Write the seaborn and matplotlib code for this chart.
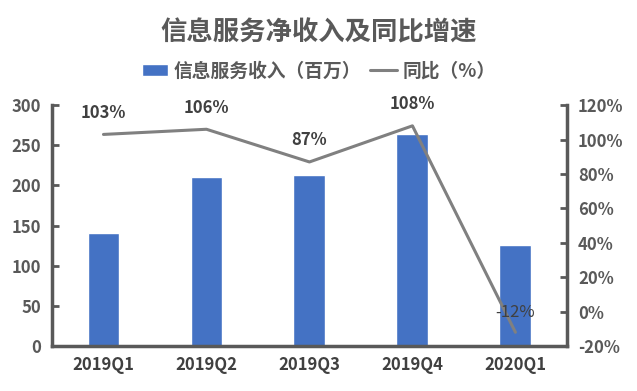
import numpy as np
import pandas as pd
import seaborn as sns
import matplotlib.pyplot as plt

quarters = ["2019Q1", "2019Q2", "2019Q3", "2019Q4", "2020Q1"]
revenue = [141, 211, 213, 264, 126]  # 信息服务收入（百万）
yoy = [103, 106, 87, 108, -12]  # 同比（%）
yoy_labels = ["103%", "106%", "87%", "108%", "-12%"]

sns.set_theme(style="white")
plt.rcParams['font.family'] = ['Noto Sans CJK SC', 'DejaVu Sans']

bar_color = "#4472C4"
line_color = "#808080"
text_color = "#595959"

df = pd.DataFrame({"quarter": quarters, "revenue": revenue, "yoy": yoy})

fig = plt.figure(figsize=(6.37, 3.91), dpi=100)
ax = fig.add_axes([0.0816, 0.115, 0.8084, 0.616])
sns.barplot(data=df, x="quarter", y="revenue", color=bar_color, width=0.31,
            saturation=1, ax=ax, label="信息服务收入（百万）")
ax.set_ylim(0, 300)
ax.set_yticks(range(0, 301, 50))
ax.set_xlim(-0.5, 4.5)
ax.set_xlabel("")
ax.set_ylabel("")

ax2 = ax.twinx()
sns.lineplot(x=np.arange(len(quarters)), y=yoy, color=line_color, linewidth=2.2,
             ax=ax2, label="同比（%）", legend=False)
ax2.set_ylim(-20, 120)
ax2.set_yticks(range(-20, 121, 20))
ax2.set_yticklabels([f"{v}%" for v in range(-20, 121, 20)])
ax2.set_xlim(-0.5, 4.5)

for i, (v, lab) in enumerate(zip(yoy, yoy_labels)):
    if v >= 0:
        ax2.annotate(lab, (i, v), xytext=(0, 9), textcoords="offset points",
                     ha="center", va="bottom", fontsize=12, fontweight="bold",
                     color="#404040")
    else:
        ax2.annotate(lab, (i, v), xytext=(0, 8), textcoords="offset points",
                     ha="center", va="bottom", fontsize=12, color="#404040")

for a in (ax, ax2):
    for s in a.spines.values():
        s.set_visible(False)
ax.spines["left"].set_visible(True)
ax.spines["bottom"].set_visible(True)
ax2.spines["right"].set_visible(True)
for s in (ax.spines["left"], ax.spines["bottom"], ax2.spines["right"]):
    s.set_color(text_color)
    s.set_linewidth(2.5)

ax.set_xticks(np.arange(len(quarters)))
ax.set_xticklabels(quarters)
ax.tick_params(axis="x", length=0, pad=7, labelsize=12, labelcolor="#404040")
ax.set_xticks(np.arange(-0.5, len(quarters) + 0.5, 1), minor=True)
ax.tick_params(axis="x", which="minor", direction="in", length=5, width=2,
               color=text_color)
ax.tick_params(axis="y", direction="in", length=5, width=2, color=text_color,
               labelsize=12, labelcolor=text_color, pad=8)
ax2.tick_params(axis="y", direction="in", length=5, width=2, color=text_color,
                labelsize=12, labelcolor=text_color, pad=8)
for lab in ax.get_xticklabels() + ax.get_yticklabels() + ax2.get_yticklabels():
    lab.set_fontweight("bold")

fig.text(0.5, 0.915, "信息服务净收入及同比增速", ha="center", va="center",
         fontsize=19, fontweight="bold", color=text_color)

h1, l1 = ax.get_legend_handles_labels()
h2, l2 = ax2.get_legend_handles_labels()
if ax.get_legend() is not None:
    ax.get_legend().remove()
fig.legend(h1 + h2, l1 + l2, loc="center", bbox_to_anchor=(0.5, 0.818), ncol=2,
           frameon=False, handlelength=1.4, handleheight=0.6, handletextpad=0.3,
           columnspacing=0.5, labelcolor=text_color,
           prop={"size": 13.5, "weight": "bold"})

fig.savefig("out.png", dpi=100)
